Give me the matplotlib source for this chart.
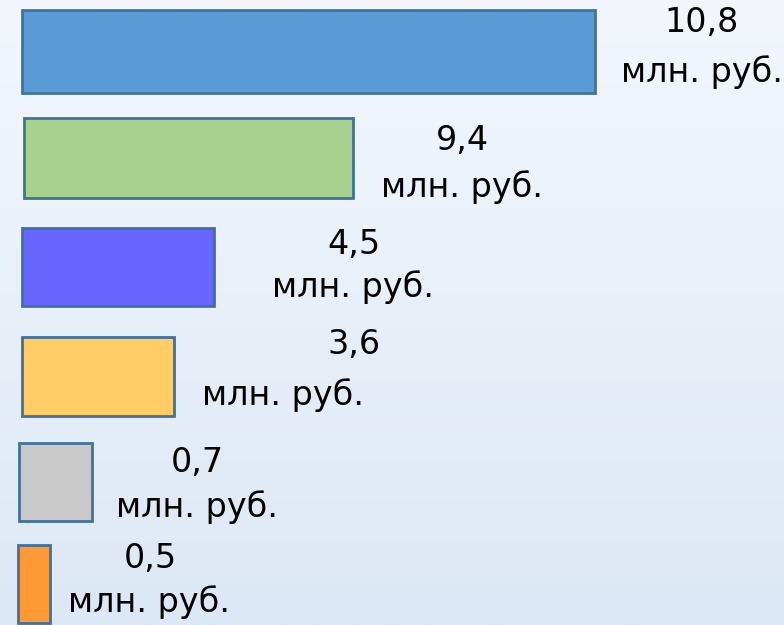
import numpy as np
import matplotlib
matplotlib.use("Agg")
import matplotlib.pyplot as plt
from matplotlib.colors import LinearSegmentedColormap

# values shown in the labels (млн. руб.)
values = [10.8, 9.4, 4.5, 3.6, 0.7, 0.5]
# bar lengths as drawn in the picture (not proportional to the values)
bar_len = [573, 329, 192, 152, 73, 32]
colors = ["#5b9bd5", "#a9d18e", "#6666ff", "#ffcc66", "#c9c9c9", "#ff9933"]
unit = "млн. руб."

# layout in pixel units (figure is 784x625)
bar_left = [22, 24, 22, 22, 19, 18]
bar_center = [51.5, 158, 267, 376.5, 482, 584]
bar_height = [83, 80, 78, 79, 78, 78]
num_xy = [(702, 23), (462, 140), (354, 245), (354, 345), (197, 462), (150, 558)]
unit_xy = [(702, 72), (462, 187), (353, 287), (283, 395), (197, 507), (149, 602)]

fig = plt.figure(figsize=(7.84, 6.25), dpi=100)
ax = fig.add_axes([0, 0, 1, 1])
ax.set_xlim(0, 784)
ax.set_ylim(625, 0)
ax.axis("off")

# soft vertical background gradient
cmap = LinearSegmentedColormap.from_list("bg", ["#f3f7fc", "#dce8f5"])
grad = np.linspace(0, 1, 256).reshape(-1, 1)
ax.imshow(grad, cmap=cmap, aspect="auto", extent=(0, 784, 625, 0), zorder=0)

ax.barh(bar_center, bar_len, height=bar_height, left=bar_left,
        color=colors, edgecolor="#41719c", linewidth=2, zorder=2)

for v, (nx, ny), (ux, uy) in zip(values, num_xy, unit_xy):
    ax.text(nx, ny, f"{v:.1f}".replace(".", ","), ha="center", va="center",
            fontsize=24, color="black", zorder=3)
    ax.text(ux, uy, unit, ha="center", va="center",
            fontsize=24, color="black", zorder=3)

fig.savefig("out.png", dpi=100)
